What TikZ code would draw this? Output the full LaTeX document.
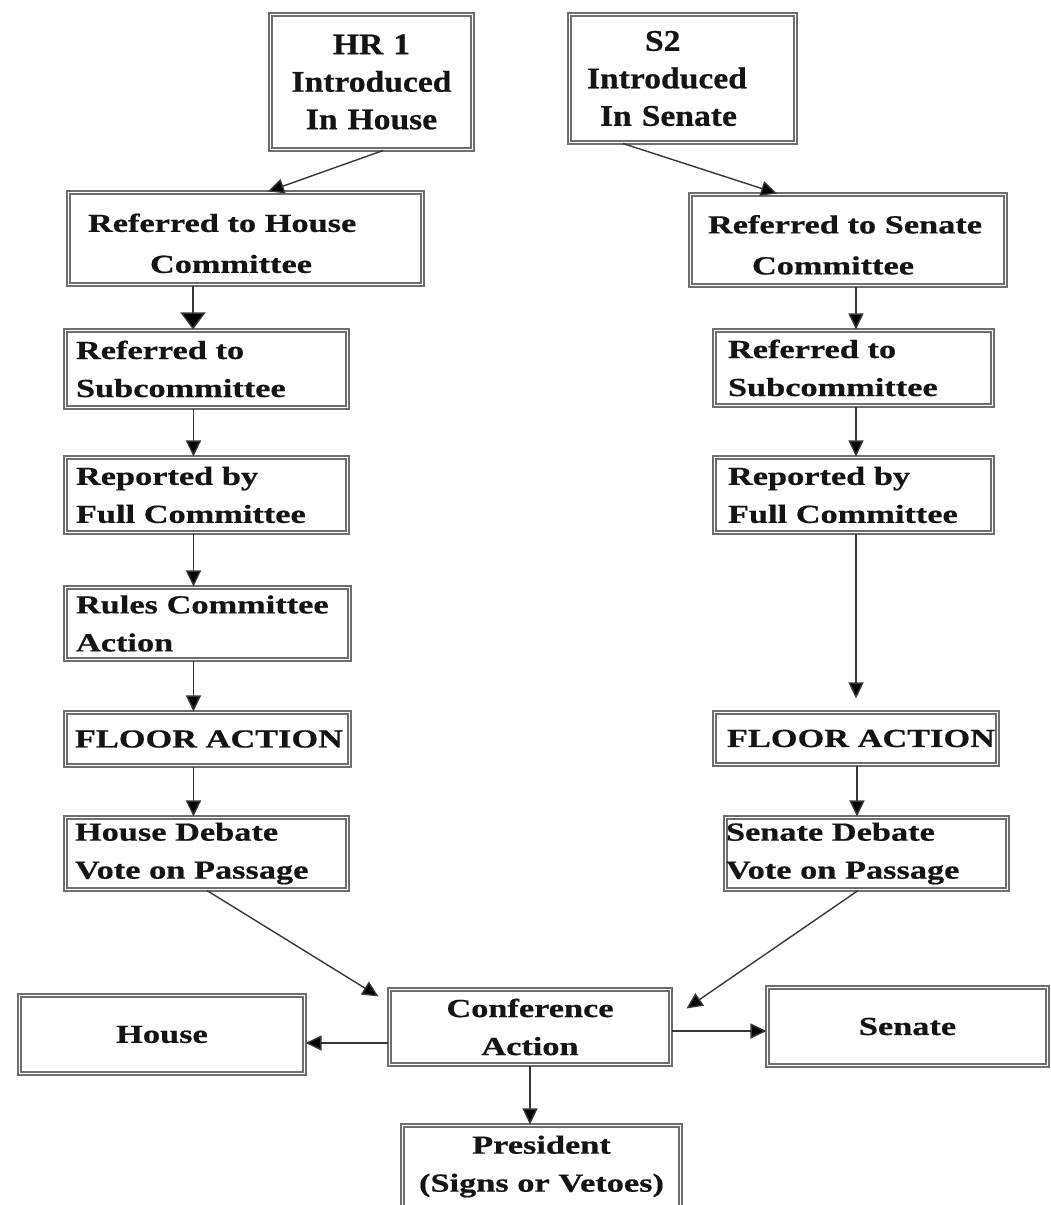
\documentclass[tikz,border=0pt]{standalone}
\usepackage{fontspec}
\usetikzlibrary{arrows.meta,calc}
\newfontfamily\bfont{Liberation Serif}[FakeStretch=1.32,FakeBold=0.6]
\newfontfamily\tfont{Liberation Serif}[FakeStretch=1.12,FakeBold=0.6]
\definecolor{bordc}{RGB}{110,110,110}
\definecolor{arrc}{RGB}{55,55,55}
\definecolor{txtc}{RGB}{20,20,20}
\tikzset{
  box/.style={draw=bordc, line width=2.1pt, double=white, double distance=1.5pt,
    fill=white, inner ysep=0pt, align=left, text=txtc,
    font=\bfont\bfseries\fontsize{26}{38}\selectfont},
  topbox/.style={box, font=\tfont\bfseries\fontsize{30}{37.5}\selectfont},
  arr/.style={draw=arrc, line width=1.4pt, -{Triangle[width=15pt,length=16pt,fill=black]}},
  bigarr/.style={draw=arrc, line width=1.4pt, -{Triangle[width=25pt,length=17pt,fill=black]}}
}
\begin{document}
\begin{tikzpicture}[x=1pt,y=-1pt]
\useasboundingbox (0,0) rectangle (1050,1205);
% top
\node[topbox, align=center, text width=180pt, inner xsep=11pt, minimum height=135pt] (hr1) at (371.5,82) {HR 1\\Introduced\\In House};
\node[topbox, text width=191pt, inner xsep=17.5pt, minimum height=128pt] (s2) at (682.5,78.5) {\hspace*{58pt}S2\\Introduced\\\hspace*{13pt}In Senate};
% left column
\node[box, font=\bfont\bfseries\fontsize{26}{41}\selectfont, text width=315pt, inner xsep=19.5pt, minimum height=92pt] (refh) at (245.5,238.5) {\rule{0pt}{28pt}Referred to House\\\hspace*{62pt}Committee};
\node[box, text width=261pt, inner xsep=10.5pt, minimum height=77pt] (subh) at (206.5,369) {Referred to\\Subcommittee};
\node[box, text width=261pt, inner xsep=10.5pt, minimum height=75pt] (reph) at (206.5,495) {Reported by\\Full Committee};
\node[box, text width=263pt, inner xsep=10.5pt, minimum height=72pt] (rules) at (207.5,623.5) {Rules Committee\\Action};
\node[box, text width=265pt, inner xsep=9.5pt, minimum height=53pt] (floorh) at (207.5,739) {\mbox{FLOOR ACTION}};
\node[box, text width=263pt, inner xsep=9.5pt, minimum height=72pt] (debh) at (206.5,853.5) {House Debate\\Vote on Passage};
% right column
\node[box, font=\bfont\bfseries\fontsize{26}{41}\selectfont, text width=280pt, inner xsep=17.5pt, minimum height=91pt] (refs) at (848,240) {\rule{0pt}{28pt}Referred to Senate\\\hspace*{44pt}Committee};
\node[box, text width=251pt, inner xsep=13.5pt, minimum height=75pt] (subs) at (853.5,368) {Referred to\\Subcommittee};
\node[box, text width=251pt, inner xsep=13.5pt, minimum height=75pt] (reps) at (853.5,495) {Reported by\\Full Committee};
\node[box, text width=258pt, inner xsep=12.5pt, minimum height=52pt] (floors) at (856,738.5) {\mbox{FLOOR ACTION}};
\node[box, text width=281pt, inner xsep=0.5pt, minimum height=72pt] (debs) at (866.5,853.5) {Senate Debate\\Vote on Passage};
% bottom
\node[box, align=center, text width=265pt, inner xsep=10pt, minimum height=78pt] (house) at (162,1034.5) {House};
\node[box, align=center, text width=261pt, inner xsep=10pt, minimum height=75pt] (conf) at (530,1027) {Conference\\Action};
\node[box, align=center, text width=260pt, inner xsep=10pt, minimum height=78pt] (senate) at (907.5,1026.5) {Senate};
\node[box, align=center, text width=258pt, inner xsep=10pt, minimum height=82pt] (pres) at (541.5,1166.5) {President\\(Signs or Vetoes)};
% arrows top
\draw[arr] ([xshift=11.5pt]hr1.south) -- ([xshift=22.5pt]refh.north);
\draw[arr] ([xshift=-59.5pt]s2.south) -- ([xshift=-71pt]refs.north);
% left column arrows
\coordinate (l1) at ([xshift=-52.5pt]refh.south);
\draw[bigarr] (l1) -- (l1 |- subh.north);
\coordinate (l2) at ([xshift=-13pt]subh.south);
\draw[arr] (l2) -- (l2 |- reph.north);
\coordinate (l3) at ([xshift=-13pt]reph.south);
\draw[arr] (l3) -- (l3 |- rules.north);
\coordinate (l4) at ([xshift=-14pt]rules.south);
\draw[arr] (l4) -- (l4 |- floorh.north);
\coordinate (l5) at ([xshift=-14pt]floorh.south);
\draw[arr] (l5) -- (l5 |- debh.north);
% right column arrows
\coordinate (r1) at ([xshift=8pt]refs.south);
\draw[arr] (r1) -- (r1 |- subs.north);
\coordinate (r2) at ([xshift=2.5pt]subs.south);
\draw[arr] (r2) -- (r2 |- reps.north);
\coordinate (r3) at ([xshift=2.5pt]reps.south);
\draw[arr, shorten >=13pt] (r3) -- (r3 |- floors.north);
\coordinate (r4) at ([xshift=1pt]floors.south);
\draw[arr] (r4) -- (r4 |- debs.north);
% to conference
\coordinate (cl) at ([xshift=-10pt,yshift=-8pt]conf.north west);
\draw[arr] ([xshift=0.5pt]debh.south) -- (cl);
\coordinate (cr) at ([xshift=15pt,yshift=-20pt]conf.north east);
\draw[arr] ([xshift=-8.5pt]debs.south) -- (cr);
% from conference
\coordinate (c1) at ([yshift=-16pt]conf.west);
\draw[arr] (c1) -- (c1 -| house.east);
\coordinate (c2) at ([yshift=-4pt]conf.east);
\draw[arr] (c2) -- (c2 -| senate.west);
\draw[arr] (conf.south) -- (conf.south |- pres.north);
\end{tikzpicture}
\end{document}
